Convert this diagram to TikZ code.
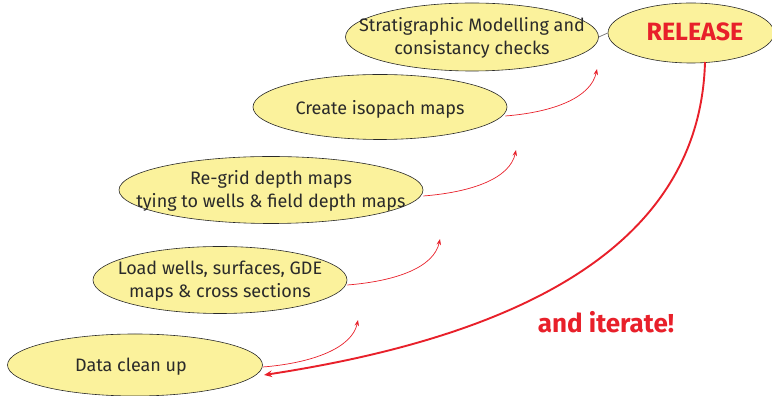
\documentclass[tikz,border=0pt]{standalone}
\usepackage{fontspec}
\setmainfont{Fira Sans}
\usetikzlibrary{shapes.geometric,arrows.meta}
\definecolor{fillyel}{HTML}{FBF29C}
\definecolor{redc}{HTML}{E8202A}
\definecolor{txt}{HTML}{2A2A2A}
\tikzset{
  stepell/.style={ellipse, draw=txt, line width=0.6pt, fill=fillyel, inner sep=0pt},
  steptext/.style={text=txt, font=\fontsize{18}{23}\selectfont, align=center, inner sep=0pt},
  smallarrow/.style={draw=redc, line width=0.7pt, -{Stealth[length=6pt,width=4.5pt]}},
  bigarrow/.style={draw=redc, line width=1.9pt, -{Stealth[length=8pt,width=6.5pt]}}
}
\begin{document}
\begin{tikzpicture}[x=1pt,y=1pt]
\useasboundingbox (0,0) rectangle (772,396);
\node[stepell, minimum width=255, minimum height=62] (clean) at (135,31) {};
\node[stepell, minimum width=254, minimum height=67] (load) at (220,116) {};
\node[stepell, minimum width=304, minimum height=67] (regrid) at (271,206) {};
\node[stepell, minimum width=254, minimum height=65] (iso) at (380,289) {};
\node[stepell, minimum width=253, minimum height=68] (strat) at (472,359) {};
\node[stepell, minimum width=166, minimum height=60] (rel) at (691,363) {};
\node[steptext] (cleant) at ([xshift=-4pt,yshift=-2pt]clean.center) {Data clean up};
\node[steptext] (loadt) at ([yshift=-1pt]load.center) {Load wells, surfaces, GDE\\maps \& cross sections};
\node[steptext] (regridt) at ([yshift=-1pt]regrid.center) {Re-grid depth maps\\tying to wells \& field depth maps};
\node[steptext] (isot) at ([yshift=-2pt]iso.center) {Create isopach maps};
\node[steptext] (stratt) at ([yshift=-1pt]strat.center) {Stratigraphic Modelling and\\consistancy checks};
\node[text=redc, font=\fontsize{25}{28}\selectfont\bfseries, inner sep=0pt] (relt) at ([xshift=4pt,yshift=1pt]rel.center) {RELEASE};
\draw[draw=gray, line width=0.8pt] (strat.east) -- (rel.west);
\coordinate (t1) at (358,76);
\coordinate (t2) at (440,157);
\coordinate (t3) at (516,246);
\coordinate (t4) at (597,327);
\draw[smallarrow] (clean.east) ++(0,-2) .. controls +(50,4) and +(-6,-28) .. (t1);
\draw[smallarrow] (load.east) ++(0,-5) .. controls +(50,4) and +(-6,-28) .. (t2);
\draw[smallarrow] (regrid.east) ++(0,-6) .. controls +(50,4) and +(-6,-28) .. (t3);
\draw[smallarrow] (iso.east) ++(-2,-9) .. controls +(50,4) and +(-6,-28) .. (t4);
\coordinate (cleanend) at (264,21);
\draw[bigarrow] (705,334) .. controls (700,150) and (520,60) .. (cleanend);
\node[text=redc, font=\fontsize{26}{30}\selectfont\bfseries] (iter) at (606,74) {and iterate!};
\end{tikzpicture}
\end{document}
